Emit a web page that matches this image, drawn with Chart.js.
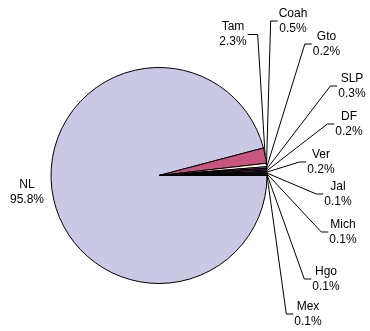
<!DOCTYPE html>
<html>
<head>
<meta charset="utf-8">
<script src="https://cdn.jsdelivr.net/npm/chart.js@4/dist/chart.umd.min.js"></script>
<style>
  html, body { margin: 0; padding: 0; background: #fff; }
  #wrap { width: 370px; height: 331px; position: relative; }
</style>
</head>
<body>
<div id="wrap"><canvas id="chart"></canvas></div>
<script>
// data
const categories = ['NL', 'Tam', 'Coah', 'Gto', 'SLP', 'DF', 'Ver', 'Jal', 'Mich', 'Hgo', 'Mex'];
const shares = [95.8, 2.3, 0.5, 0.2, 0.3, 0.2, 0.2, 0.1, 0.1, 0.1, 0.1];
const shareLabels = shares.map(v => v.toFixed(1) + '%');

// slice colours (excel-ish palette)
const colors = ['#C9C9E5', '#C7557F', '#FFFFE0', '#CCFFFF', '#660066', '#FF8080',
                '#0066CC', '#CCCCFF', '#000080', '#FF00FF', '#FFFF00'];

// label block placement: centre x, middle y, side the leader attaches to
const labelLayout = [
  [27, 192, null],
  [233, 34.5, 'right'],
  [293, 21, 'left'],
  [326.5, 44, 'left'],
  [352, 86, 'left'],
  [349, 124, 'left'],
  [321, 162, 'left'],
  [338, 194, 'left'],
  [343, 232, 'left'],
  [326, 279, 'left'],
  [308, 314, 'left']
];

const FONT = '12px "Liberation Sans", Arial, sans-serif';
const LINE_H = 15;

const leaderLabels = {
  id: 'leaderLabels',
  afterDraw(chart) {
    const ctx = chart.ctx;
    const arcs = chart.getDatasetMeta(0).data;
    ctx.save();
    ctx.font = FONT;
    ctx.fillStyle = '#000';
    ctx.strokeStyle = '#000';
    ctx.lineWidth = 1;
    ctx.textAlign = 'center';
    ctx.textBaseline = 'middle';
    arcs.forEach((arc, i) => {
      const p = arc.getProps(['x', 'y', 'startAngle', 'endAngle', 'outerRadius'], true);
      const [cx, my, side] = labelLayout[i];
      const lines = [categories[i], shareLabels[i]];
      const w = Math.max(...lines.map(t => ctx.measureText(t).width));
      if (side) {
        const mid = (p.startAngle + p.endAngle) / 2;
        const ax = p.x + p.outerRadius * Math.cos(mid);
        const ay = p.y + p.outerRadius * Math.sin(mid);
        let x1, x2;
        if (side === 'left') {
          x2 = cx - w / 2 - 1;
          x1 = x2 - 7;
        } else {
          x2 = cx + w / 2 + 1;
          x1 = x2 + 10;
        }
        ctx.beginPath();
        ctx.moveTo(ax, ay);
        ctx.lineTo(x1, my);
        ctx.lineTo(x2, my);
        ctx.stroke();
      }
      ctx.fillText(lines[0], cx, my - LINE_H / 2);
      ctx.fillText(lines[1], cx, my + LINE_H / 2);
    });
    ctx.restore();
  }
};

new Chart(document.getElementById('chart'), {
  type: 'pie',
  data: {
    labels: categories,
    datasets: [{
      data: shares,
      backgroundColor: colors,
      borderColor: '#000',
      borderWidth: 1
    }]
  },
  options: {
    responsive: true,
    maintainAspectRatio: false,
    animation: false,
    rotation: 90,
    radius: 108,
    layout: { padding: { left: 0, right: 52, top: 20, bottom: 0 } },
    plugins: {
      legend: { display: false },
      tooltip: { enabled: false }
    }
  },
  plugins: [leaderLabels]
});
</script>
</body>
</html>
